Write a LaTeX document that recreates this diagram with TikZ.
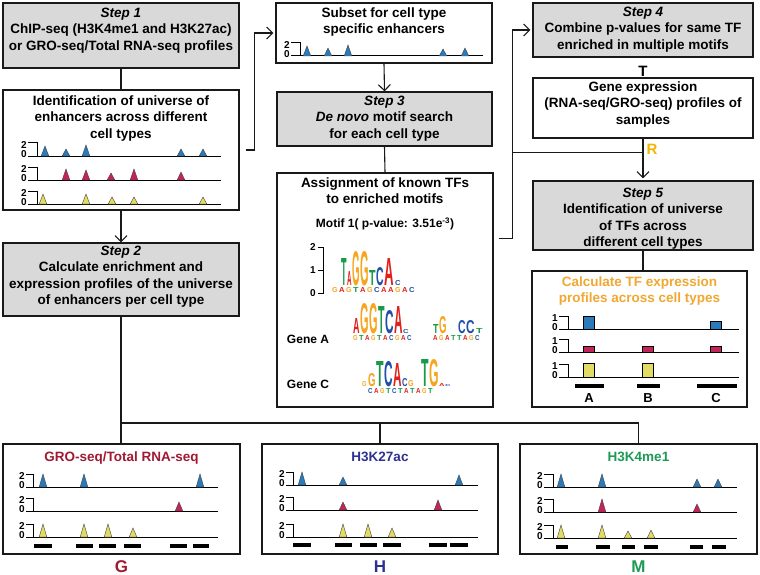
\documentclass[tikz,border=0pt]{standalone}
\usepackage{fontspec}
\setmainfont{Liberation Sans}
\usepackage{graphicx}
\usetikzlibrary{positioning,calc,arrows.meta}

\definecolor{boxgray}{HTML}{D9D9D9}
\definecolor{pkblue}{HTML}{2B7BBA}
\definecolor{pkred}{HTML}{C42459}
\definecolor{pkyel}{HTML}{E3DC64}
\definecolor{tforange}{HTML}{F0A830}
\definecolor{rorange}{HTML}{F5B400}
\definecolor{gred}{HTML}{9E1B32}
\definecolor{hblue}{HTML}{2E3192}
\definecolor{mgreen}{HTML}{1E9A55}
\definecolor{lgA}{HTML}{E0201B}
\definecolor{lgC}{HTML}{1F4FA8}
\definecolor{lgG}{HTML}{F7A51C}
\definecolor{lgT}{HTML}{1A9A48}

\tikzset{
	stepbox/.style={draw=black!90, line width=1.2pt, fill=boxgray, inner sep=0pt},
	plainbox/.style={draw=black!90, line width=1.2pt, fill=white, inner sep=0pt},
	boxtxt/.style={align=center, inner sep=0pt, font=\bfseries\fontsize{13.5}{16.5}\selectfont},
	bigtxt/.style={inner sep=0pt, font=\bfseries\fontsize{17}{17}\selectfont},
	smalltxt/.style={inner sep=0pt, font=\bfseries\fontsize{12}{12}\selectfont},
	axlab/.style={inner sep=0pt, font=\bfseries\fontsize{10}{10}\selectfont},
	axline/.style={line width=1pt, black},
	link/.style={line width=1.1pt, draw=black!90},
	arr/.style={link, -{Straight Barb[length=6pt, width=12pt]}},
	enh/.style={line width=3.5pt, black},
	logo/.style={inner sep=0pt, anchor=south west},
}

\newcommand\track[6]{% name, label x, bracket x, end x, baseline y, top value
	\node[axlab] (#1-top) at (#2,#5-11) {#6};
	\node[axlab] (#1-zero) at (#2,#5-1.5) {0};
	\draw[axline] (#2+4,#5-13) -| (#3,#5);
	\draw[axline] (#2+4,#5) -- (#4,#5);
}
\newcommand\peak[4]{%
	\filldraw[fill=#4, draw=black!75, line width=0.4pt] (#1-3.8,#2) -- (#1,#2-#3) -- (#1+3.8,#2) -- cycle;
}
\newcommand\tfbar[4]{%
	\filldraw[fill=#4, draw=black, line width=0.6pt] (#1-5.5,#2) rectangle (#1+5.5,#2-#3);
}
\newcommand\lgl[6]{% name, x, base, width, height, letter
	\node[logo, text=lg#6] (#1) at (#2,#3) {\resizebox{#4pt}{#5pt}{\textbf{#6}}};
}

\begin{document}
\begin{tikzpicture}[x=1pt, y=-1pt]
	\useasboundingbox (0,0) rectangle (760,575);

	\node[stepbox, minimum width=236pt, minimum height=65pt] (step1) at (121,35.5) {};
	\node[boxtxt, below=5pt of step1.north] (step1txt) {\textit{Step 1}\\ChIP-seq (H3K4me1 and H3K27ac)\\or GRO-seq/Total RNA-seq profiles};
	\node[plainbox, minimum width=236pt, minimum height=120pt] (univ) at (121,150) {};
	\node[boxtxt, below=6pt of univ.north] (univtxt) {Identification of universe of\\enhancers across different\\cell types};
	\node[stepbox, minimum width=236pt, minimum height=73pt] (step2) at (121,279.5) {};
	\node[boxtxt, below=3pt of step2.north] (step2txt) {\textit{Step 2}\\Calculate enrichment and\\expression profiles of the universe\\of enhancers per cell type};

	\node[plainbox, minimum width=216pt, minimum height=60pt] (subset) at (384,33) {};
	\node[boxtxt, below=5pt of subset.north] (subsettxt) {Subset for cell type\\specific enhancers};
	\node[stepbox, minimum width=215pt, minimum height=54pt] (step3) at (384.5,119) {};
	\node[boxtxt, below=4pt of step3.north] (step3txt) {\textit{Step 3}\\\textit{De novo} motif search\\for each cell type};
	\node[plainbox, minimum width=216pt, minimum height=234pt] (assign) at (385,290) {};
	\node[boxtxt, below=5pt of assign.north] (assigntxt) {Assignment of known TFs\\to enriched motifs};

	\node[stepbox, minimum width=220pt, minimum height=54pt] (step4) at (643,30) {};
	\node[boxtxt, below=4pt of step4.north] (step4txt) {\textit{Step 4}\\Combine p-values for same TF\\enriched in multiple motifs};
	\node[bigtxt, font=\bfseries\fontsize{15}{15}\selectfont, below=8pt of step4.south] (tlab) {T};
	\node[plainbox, minimum width=220pt, minimum height=60pt] (gene) at (643,108) {};
	\node[boxtxt, below=4pt of gene.north] (genetxt) {Gene expression\\(RNA-seq/GRO-seq) profiles of\\samples};
	\node[stepbox, minimum width=220pt, minimum height=69pt] (step5) at (643,215.5) {};
	\node[boxtxt, below=7pt of step5.north] (step5txt) {\textit{Step 5}\\Identification of universe\\of TFs across\\different cell types};
	\node[plainbox, minimum width=215pt, minimum height=136pt] (tf) at (639.5,339) {};
	\node[boxtxt, text=tforange, below=6pt of tf.north] (tftxt) {Calculate TF expression\\profiles across cell types};

	\node[plainbox, minimum width=237pt, minimum height=110pt] (gpan) at (121.5,499) {};
	\node[boxtxt, text=gred, below=8pt of gpan.north] (gtitle) {GRO-seq/Total RNA-seq};
	\node[bigtxt, text=gred, below=6pt of gpan.south] (glab) {G};
	\node[plainbox, minimum width=236pt, minimum height=110pt] (hpan) at (380,499) {};
	\node[boxtxt, text=hblue, below=8pt of hpan.north] (htitle) {H3K27ac};
	\node[bigtxt, text=hblue, below=6pt of hpan.south] (hlab) {H};
	\node[plainbox, minimum width=237pt, minimum height=110pt] (mpan) at (638.5,499) {};
	\node[boxtxt, text=mgreen, below=8pt of mpan.north] (mtitle) {H3K4me1};
	\node[bigtxt, text=mgreen, below=6pt of mpan.south] (mlab) {M};

	% connectors
	\draw[link] (step1.south) -- (univ.north);
	\draw[arr] (univ.south) -- (step2.north);
	\draw[arr, shorten <=6pt, shorten >=2pt] (univ.east) -- ++(15,0) |- (subset.west);
	\draw[arr] (subset.south) -- (step3.north);
	\draw[link] (step3.south) -- (assign.north);
	\coordinate (aout) at ($(assign.north east)+(0,66)$);
	\coordinate (riser) at ($(aout)+(19,0)$);
	\coordinate (rjoin) at ($(gene.south)+(0,14)$);
	\draw[arr, shorten <=5pt, shorten >=2pt] (aout) -- (riser) |- (step4.west);
	\draw[link] (riser |- rjoin) -- (rjoin);
	\draw[arr, shorten >=2pt] (gene.south) -- (step5.north);
	\node[bigtxt, font=\bfseries\fontsize{15}{15}\selectfont, text=rorange] (rlab) at ($(gene.south)+(9,11)$) {R};
	\draw[link] (step5.south) -- (step5.south |- tf.north);
	\coordinate (bus) at (121,423);
	\draw[link] (step2.south) -- (step2.south |- gpan.north);
	\draw[link] (bus) -| (mpan.north);
	\draw[link] (hpan.north) -- (hpan.north |- bus);

	% enhancer universe
	\track{ua}{24}{37}{221}{156}{2}
	\track{ub}{24}{37}{221}{180}{2}
	\track{uc}{24}{37}{221}{204}{2}
	\foreach \x/\h in {45/10,66/7,86/11,181/7,203/7} {\peak{\x}{156}{\h}{pkblue}}
	\foreach \x/\h in {66/11,86/10,111/7,134/11,181/8} {\peak{\x}{180}{\h}{pkred}}
	\foreach \x/\h in {43/10,86/10,112/7,134/7,203/7} {\peak{\x}{204}{\h}{pkyel}}

	% subset
	\track{sa}{287}{300}{483}{56}{2}
	\foreach \x/\h in {307/10,328/8,348/11,443/7,465/8} {\peak{\x}{56}{\h}{pkblue}}

	% motifs
	\node[smalltxt] (motif) at (385,224) {Motif 1( p-value: 3.51e\textsuperscript{-3})};
	\draw[axline] (318,247) -- (323,247) -- (323,293) -- (318,293);
	\draw[axline] (318,270) -- (323,270);
	\node[axlab, anchor=east] (mtwo) at (316,247) {2};
	\node[axlab, anchor=east] (mone) at (316,270) {1};
	\node[axlab, anchor=east] (mzero) at (316,293) {0};
	\foreach \x/\w/\h/\l [count=\i] in {341/5.5/27/T,347/4.5/14/A,352/7.5/34/G,360/8.5/34/G,369/6.5/15/T,376/7.5/18/C,384/9.5/27/A,395/5.5/5/C}
		{\lgl{mo-\i}{\x}{286}{\w}{\h}{\l}}
	\foreach \x/\l [count=\i] in {332/G,339/A,346/G,353/T,360/A,367/G,374/C,381/A,388/A,395/G,402/A,409/C}
		{\lgl{ms-\i}{\x}{293}{5.5}{5}{\l}}
	\node[smalltxt] (genea) at (308,339) {Gene A};
	\foreach \x/\w/\h/\l [count=\i] in {353/6.5/15/A,360/8.5/30/G,369/8.5/30/G,378/6.5/27/T,385/8.5/23/C,394/8.5/27/A,403/5.5/4/C,433/5.5/9/T,439/7.5/17/G,458/7.5/13/C,466/8.5/13/C,476/6.5/5/T}
		{\lgl{ga-\i}{\x}{334}{\w}{\h}{\l}}
	\foreach \x/\l [count=\i] in {353/G,359/T,365/A,371/G,377/T,383/A,389/C,395/G,401/A,407/C,433/A,439/G,445/A,451/T,457/T,463/A,469/G,475/C}
		{\lgl{gas-\i}{\x}{341}{4.5}{5}{\l}}
	\node[smalltxt] (genec) at (308,384) {Gene C};
	\foreach \x/\w/\h/\l [count=\i] in {362/4.5/5/G,368/7.5/13/G,376/7.5/25/T,384/8.5/25/C,393/8.5/23/A,402/5.5/8/C,408/5.5/6/G,421/7.5/27/T,429/9.5/27/G,439/5.5/3/A,445/5.5/2/C}
		{\lgl{gc-\i}{\x}{387}{\w}{\h}{\l}}
	\foreach \x/\l [count=\i] in {368/C,374/A,380/G,386/T,392/C,398/T,404/A,410/T,416/A,422/G,428/T}
		{\lgl{gcs-\i}{\x}{394}{4.5}{5}{\l}}

	% TF expression
	\track{ta}{555}{568}{739}{329}{1}
	\track{tb}{555}{568}{739}{352}{1}
	\track{tc}{555}{568}{739}{377}{1}
	\tfbar{589}{329}{13}{pkblue}
	\tfbar{716}{329}{8}{pkblue}
	\foreach \x in {589,648,716} {\tfbar{\x}{352}{6}{pkred}}
	\foreach \x in {589,648} {\tfbar{\x}{377}{14}{pkyel}}
	\foreach \a/\b in {575/604,637/660,697/737} {\draw[enh] (\a,386) -- (\b,386);}
	\node[smalltxt, font=\bfseries\fontsize{13}{13}\selectfont] (tfa) at (589,398) {A};
	\node[smalltxt, font=\bfseries\fontsize{13}{13}\selectfont] (tfb) at (648,398) {B};
	\node[smalltxt, font=\bfseries\fontsize{13}{13}\selectfont] (tfc) at (716,398) {C};

	% GRO-seq panel
	\track{ga}{22}{33}{218}{487}{2}
	\track{gb}{22}{33}{218}{511}{2}
	\track{gc}{22}{33}{218}{537}{2}
	\foreach \x/\h in {43/13,84/13,200/13} {\peak{\x}{487}{\h}{pkblue}}
	\peak{179}{511}{9}{pkred}
	\foreach \x/\h in {43/13,84/13,108/13,133/9} {\peak{\x}{537}{\h}{pkyel}}
	\foreach \a/\b in {34/52,76/93,99/116,124/141,170/187,193/209} {\draw[enh] (\a,546) -- (\b,546);}

	% H3K27ac panel
	\track{ha}{282}{293}{478}{485}{2}
	\track{hb}{282}{293}{478}{510}{2}
	\track{hc}{282}{293}{478}{537}{2}
	\foreach \x/\h in {302/13,343/8,459/10} {\peak{\x}{485}{\h}{pkblue}}
	\foreach \x/\h in {343/8,438/10} {\peak{\x}{510}{\h}{pkred}}
	\foreach \x/\h in {343/13,368/13,392/9} {\peak{\x}{537}{\h}{pkyel}}
	\foreach \a/\b in {293/311,335/352,360/377,383/401,429/447,450/468} {\draw[enh] (\a,545) -- (\b,545);}

	% H3K4me1 panel
	\track{ma}{540}{553}{737}{487}{2}
	\track{mb}{540}{553}{737}{512}{2}
	\track{mc}{540}{553}{737}{538}{2}
	\foreach \x/\h in {561/13,602/13,697/8,718/8} {\peak{\x}{487}{\h}{pkblue}}
	\foreach \x/\h in {602/13,697/8} {\peak{\x}{512}{\h}{pkred}}
	\foreach \x/\h in {561/13,602/13,628/7,651/8} {\peak{\x}{538}{\h}{pkyel}}
	\foreach \a/\b in {556/568,596/610,622/635,644/658,690/703,712/726} {\draw[enh] (\a,547) -- (\b,547);}
\end{tikzpicture}
\end{document}
